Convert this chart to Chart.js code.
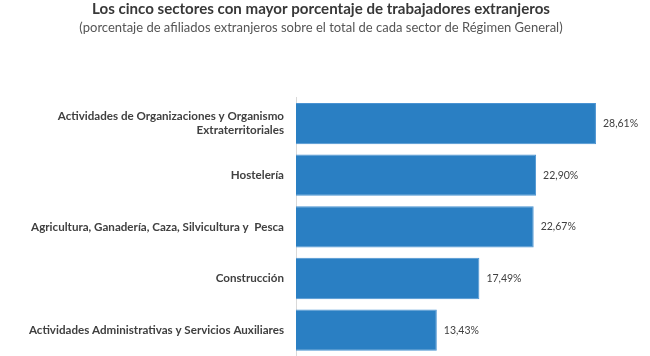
<!DOCTYPE html>
<html>
<head>
<meta charset="utf-8">
<script src="https://cdn.jsdelivr.net/npm/chart.js@4.4.1/dist/chart.umd.min.js"></script>
<style>
html,body{margin:0;padding:0;background:#fff;}
#wrap{width:650px;height:356px;position:relative;}
</style>
</head>
<body>
<div id="wrap"><canvas id="c" width="650" height="356"></canvas></div>
<script>
const categories = [
  ["Actividades de Organizaciones y Organismo", "Extraterritoriales"],
  "Hostelería",
  "Agricultura, Ganadería, Caza, Silvicultura y  Pesca",
  "Construcción",
  "Actividades Administrativas y Servicios Auxiliares"
];
const values = [28.61, 22.90, 22.67, 17.49, 13.43];
const titleText = "Los cinco sectores con mayor porcentaje de trabajadores extranjeros";
const subtitleText = "(porcentaje de afiliados extranjeros sobre el total de cada sector de Régimen General)";

const FONT = "Lato, 'Open Sans', sans-serif";

const valueLabels = {
  id: 'valueLabels',
  afterDatasetsDraw(chart) {
    const ctx = chart.ctx;
    const meta = chart.getDatasetMeta(0);
    ctx.save();
    ctx.font = "10.5px " + FONT;
    ctx.fillStyle = "#404040";
    ctx.textAlign = "left";
    ctx.textBaseline = "middle";
    meta.data.forEach((bar, i) => {
      const txt = values[i].toFixed(2).replace('.', ',') + '%';
      ctx.fillText(txt, bar.x + 7, bar.y);
    });
    ctx.restore();
  }
};

new Chart(document.getElementById('c'), {
  type: 'bar',
  data: {
    labels: categories,
    datasets: [{
      data: values,
      backgroundColor: '#2a7fc3',
      borderColor: '#4a93d2',
      borderWidth: 1,
      categoryPercentage: 0.8,
      barPercentage: 1.0
    }]
  },
  options: {
    indexAxis: 'y',
    responsive: false,
    animation: false,
    layout: { padding: { left: 0, right: 8, top: 0, bottom: 0 } },
    plugins: {
      legend: { display: false },
      tooltip: { enabled: false },
      title: {
        display: true,
        text: titleText,
        color: '#383838',
        font: { family: FONT, size: 15.1, weight: 'bold' },
        padding: { top: 0, bottom: 1.5 }
      },
      subtitle: {
        display: true,
        text: subtitleText,
        color: '#555555',
        font: { family: FONT, size: 13, weight: 'normal' },
        padding: { top: 0, bottom: 62.5 }
      }
    },
    scales: {
      x: {
        min: 0,
        max: 33,
        display: false,
        grid: { display: false }
      },
      y: {
        afterFit(scale) {
          scale.width = 296;
          scale.paddingTop = 0;
          scale.paddingBottom = 0;
        },
        grid: { display: false, drawTicks: false },
        border: { display: true, color: '#d9d9d9', width: 1 },
        ticks: {
          color: '#404040',
          padding: 12,
          font: { family: FONT, size: 11.6, weight: 'bold' }
        }
      }
    }
  },
  plugins: [valueLabels]
});
</script>
</body>
</html>
